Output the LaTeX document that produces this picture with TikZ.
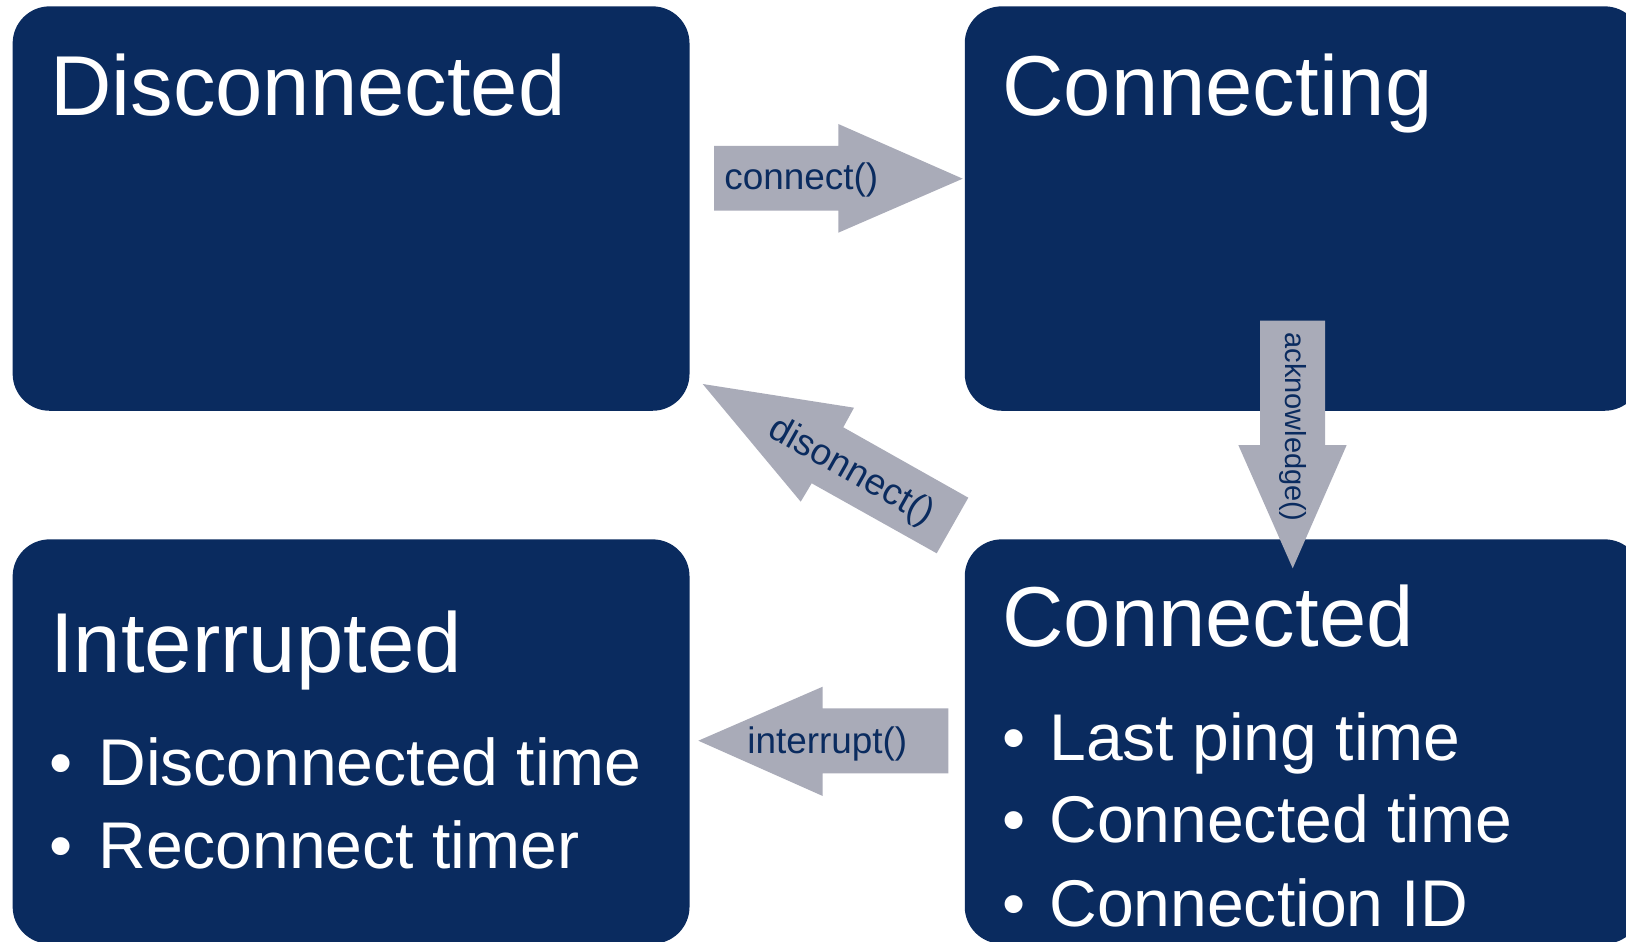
\documentclass[tikz,border=0pt]{standalone}
\usepackage{fontspec}
\setmainfont{Liberation Sans}
\definecolor{navy}{RGB}{10,43,95}
\definecolor{arrowgray}{RGB}{169,171,184}
\begin{document}
\begin{tikzpicture}[x=0.02cm,y=-0.02cm,
 statebox/.style={fill=navy, draw=none, rounded corners=0.74cm, minimum width=13.54cm, minimum height=8.09cm, inner sep=0pt, anchor=north west},
 titletext/.style={text=white, anchor=base west, inner sep=0pt, font=\fontsize{48.4}{58}\selectfont},
 itemtext/.style={text=white, anchor=base west, inner sep=0pt, font=\fontsize{37.6}{45}\selectfont},
 blockarrow/.style={fill=arrowgray, draw=none},
 arrowlabel/.style={text=navy, inner sep=0pt, font=\fontsize{21}{25}\selectfont}]
\useasboundingbox (0,0) rectangle (1626,942);
\clip (0,0) rectangle (1626,942);

% state boxes
\node[statebox] (disc) at (12.3,6) {};
\node[statebox] (conning) at (964.4,6) {};
\node[statebox] (intr) at (12.3,539) {};
\node[statebox] (conned) at (964.4,539) {};

% titles
\node[titletext] (discT) at (50,116) {Disconnected};
\node[titletext] (conningT) at (1002,116) {Connecting};
\node[titletext] (intrT) at (50,672) {Interrupted};
\node[titletext] (connedT) at (1002,646) {Connected};

% bullet items
\node[itemtext] (ib1) at (49,785) {•};
\node[itemtext] (i1) at (98,785) {Disconnected time};
\node[itemtext] (ib2) at (49,868) {•};
\node[itemtext] (i2) at (98,868) {Reconnect timer};
\node[itemtext] (cb1) at (1002,760) {•};
\node[itemtext] (c1) at (1049,760) {Last ping time};
\node[itemtext] (cb2) at (1002,842) {•};
\node[itemtext] (c2) at (1049,842) {Connected time};
\node[itemtext] (cb3) at (1002,926) {•};
\node[itemtext] (c3) at (1049,926) {Connection ID};

% connect() arrow
\fill[blockarrow] (714,146) -- (838.3,146) -- (838.3,124) -- (962.7,178.7)
  -- (838.3,232.7) -- (838.3,210.7) -- (714,210.7) -- cycle;
\node[arrowlabel, anchor=base west] (lconnect) at (724,190) {connect()};

% acknowledge() arrow
\fill[blockarrow] (1260,320.7) -- (1325,320.7) -- (1325,445) -- (1346.7,445)
  -- (1292.7,568.3) -- (1238.3,445) -- (1260,445) -- cycle;
\node[arrowlabel, rotate=-90, font=\fontsize{16.5}{20}\selectfont] (lack) at (1292.5,426.7) {acknowledge()};

% disconnect() arrow
\fill[blockarrow] (702.7,384) -- (854,407.7) -- (843.3,427.3) -- (968.3,497.7)
  -- (936.7,553.3) -- (811.7,483.3) -- (800.7,501.7) -- cycle;
\node[arrowlabel, rotate=-29.5] (ldisc) at (851,472) {disonnect()};

% interrupt() arrow
\fill[blockarrow] (948.3,708.3) -- (822.7,708.3) -- (822.7,686.7) -- (698.3,740.7)
  -- (822.7,796) -- (822.7,773.3) -- (948.3,773.3) -- cycle;
\node[arrowlabel, anchor=base west] (lintr) at (747,753) {interrupt()};
\end{tikzpicture}
\end{document}
